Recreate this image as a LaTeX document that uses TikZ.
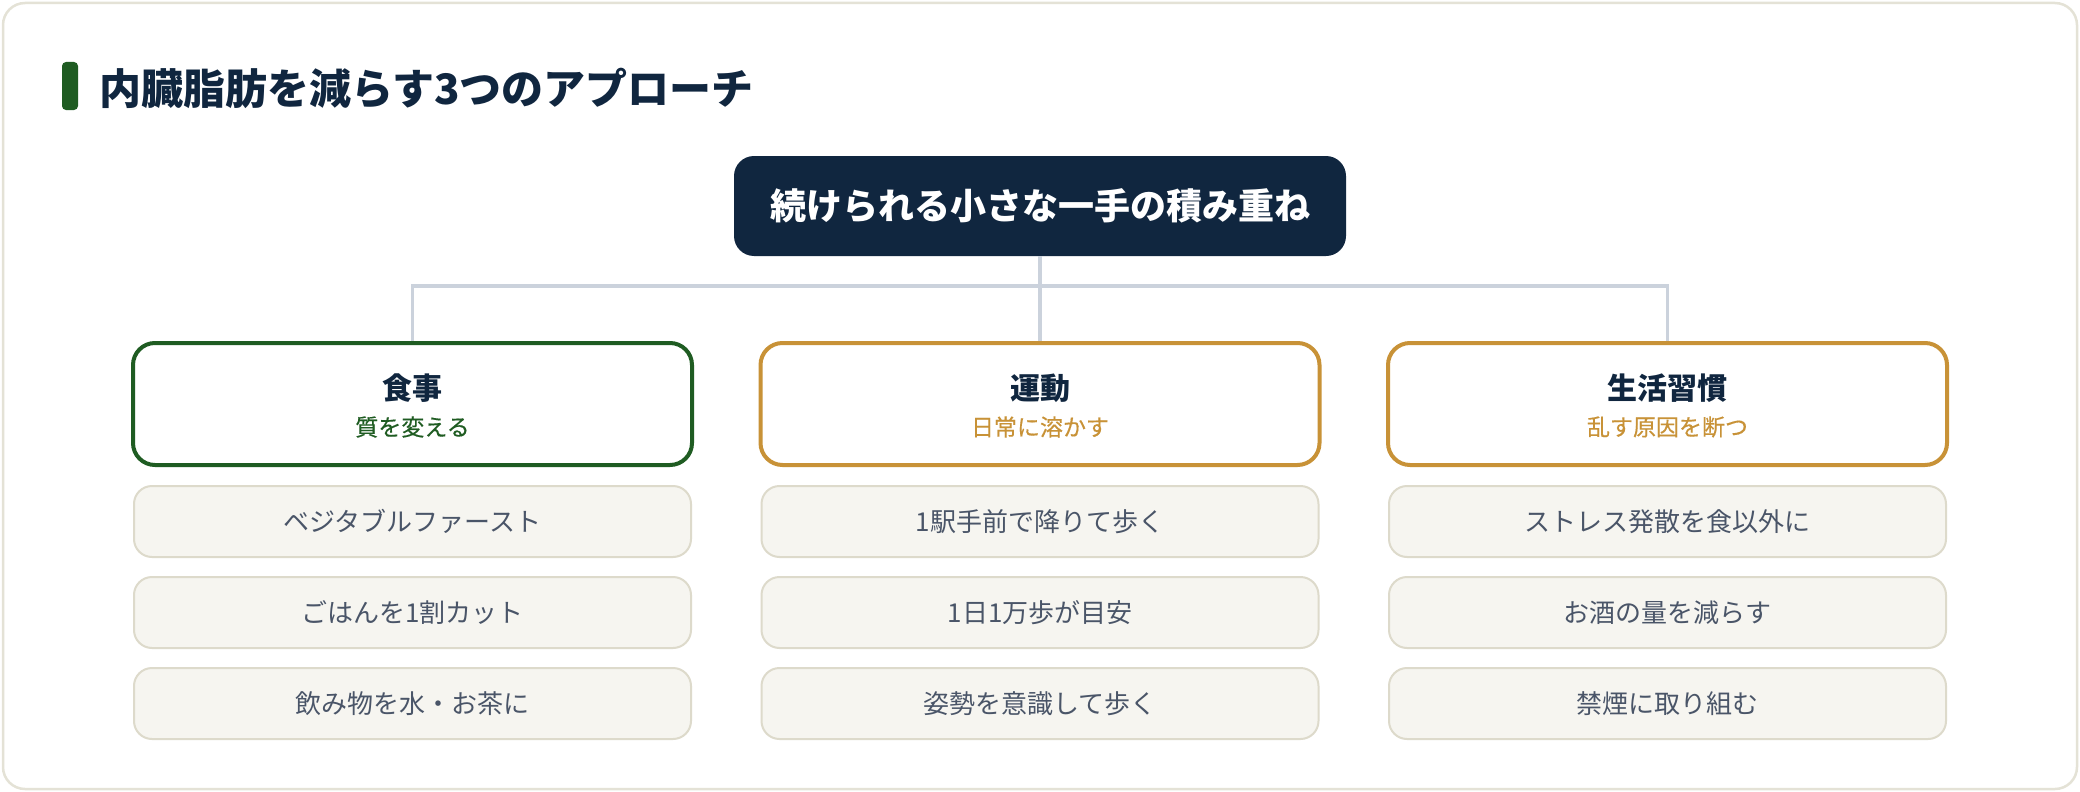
\documentclass[tikz,border=0pt]{standalone}
\usepackage{fontspec}
\setmainfont{Noto Sans CJK JP}
\usetikzlibrary{positioning}

\definecolor{navy}{HTML}{10263F}
\definecolor{leaf}{HTML}{1F5C22}
\definecolor{gold}{HTML}{C89237}
\definecolor{cardline}{HTML}{E4E2D6}
\definecolor{itemfill}{HTML}{F6F5F0}
\definecolor{itemline}{HTML}{DDDACB}
\definecolor{itemtext}{HTML}{4A5568}
\definecolor{linkgray}{HTML}{CBD2DC}

\begin{document}
\begin{tikzpicture}[x=1pt, y=-1pt, node distance=18pt,
    card/.style={draw=cardline, line width=2.5pt, fill=white, rounded corners=22pt},
    heading/.style={anchor=west, inner sep=0pt, text=navy, font=\fontsize{42}{48}\selectfont\bfseries},
    root/.style={fill=navy, text=white, rounded corners=20pt, minimum width=612pt, minimum height=100pt, font=\fontsize{36}{42}\selectfont\bfseries},
    cat/.style={draw=#1, fill=white, line width=4pt, rounded corners=22pt, minimum width=559pt, minimum height=122pt},
    catname/.style={inner sep=0pt, text=navy, font=\fontsize{30}{36}\selectfont\bfseries},
    catsub/.style={inner sep=0pt, text=#1, font=\fontsize{23}{28}\selectfont\addfontfeature{FakeBold=0.35}},
    item/.style={draw=itemline, fill=itemfill, line width=2pt, rounded corners=18pt, minimum width=557pt, minimum height=71pt, text=itemtext, font=\fontsize{26}{30}\selectfont},
    link/.style={draw=linkgray, line width=3.5pt}]
  \useasboundingbox (0,0) rectangle (2080,792);
  \draw[card] (3,3) rectangle (2077,789);

  % heading
  \fill[leaf, rounded corners=4pt] (62,62) rectangle (78,110);
  \node[heading] (title) at (99,88) {内臓脂肪を減らす3つのアプローチ};

  % tree
  \node[root] (root) at (1040,206) {続けられる小さな一手の積み重ね};
  \coordinate (bus) at (1040,286);

  \node[cat=leaf] (diet) at (412.5,404) {};
  \node[cat=gold] (move) at (1040,404) {};
  \node[cat=gold] (habit) at (1667.5,404) {};

  \draw[link] (root.south) -- (bus) -| (diet.north);
  \draw[link] (bus) -| (habit.north);
  \draw[link] (bus) -- (move.north);

  \node[catname] at ([yshift=16pt]diet.center) {食事};
  \node[catsub=leaf] at ([yshift=-23pt]diet.center) {質を変える};
  \node[catname] at ([yshift=16pt]move.center) {運動};
  \node[catsub=gold] at ([yshift=-23pt]move.center) {日常に溶かす};
  \node[catname] at ([yshift=16pt]habit.center) {生活習慣};
  \node[catsub=gold] at ([yshift=-23pt]habit.center) {乱す原因を断つ};

  % items
  \node[item, below=of diet] (diet1) {ベジタブルファースト};
  \node[item, below=of diet1] (diet2) {ごはんを1割カット};
  \node[item, below=of diet2] (diet3) {飲み物を水・お茶に};

  \node[item, below=of move] (move1) {1駅手前で降りて歩く};
  \node[item, below=of move1] (move2) {1日1万歩が目安};
  \node[item, below=of move2] (move3) {姿勢を意識して歩く};

  \node[item, below=of habit] (habit1) {ストレス発散を食以外に};
  \node[item, below=of habit1] (habit2) {お酒の量を減らす};
  \node[item, below=of habit2] (habit3) {禁煙に取り組む};
\end{tikzpicture}
\end{document}
